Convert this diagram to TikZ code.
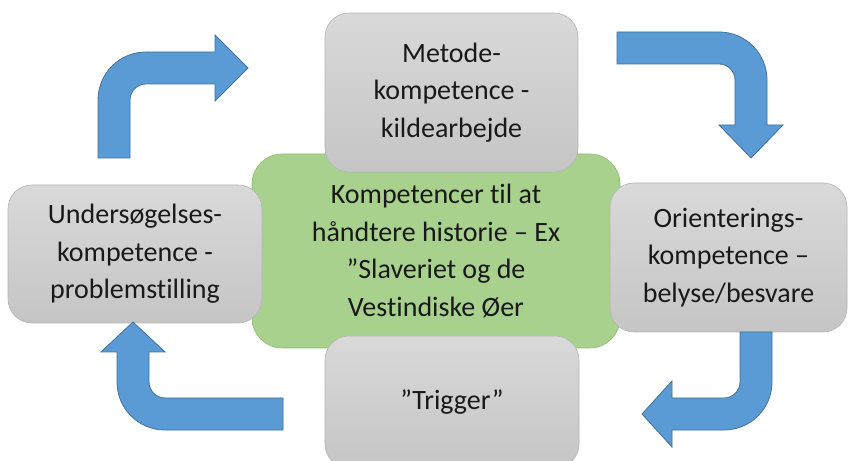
\documentclass[tikz,border=0pt]{standalone}
\usepackage{fontspec}
\setmainfont{Carlito}[Ligatures={NoCommon,NoRare,NoContextual}]
\usepackage{tikz}
\definecolor{boxtop}{HTML}{D9D9D9}
\definecolor{boxbot}{HTML}{C5C5C5}
\definecolor{boxline}{HTML}{B4B4B4}
\definecolor{corefill}{HTML}{A9D18E}
\definecolor{coreline}{HTML}{8DBA72}
\definecolor{arrfill}{HTML}{5B9BD5}
\definecolor{arrline}{HTML}{41719C}
\begin{document}
\begin{tikzpicture}[x=1pt,y=1pt,
    box/.style={draw=boxline, line width=.6pt, top color=boxtop, bottom color=boxbot, rounded corners=24pt, align=center, text=black!90, font=\fontsize{28}{37.5}\selectfont},
    corebox/.style={box, draw=coreline, top color=corefill, bottom color=corefill, rounded corners=30pt},
    blockarrow/.style={draw=arrline, line width=.8pt, fill=arrfill, line join=miter}]
\useasboundingbox (0,0) rectangle (850,460);
\clip (0,0) rectangle (850,460);
\node[corebox, minimum width=368, minimum height=194] (core) at (436,209) {Kompetencer til at\\håndtere historie – Ex\\”Slaveriet og de\\Vestindiske Øer};
\node[box, minimum width=253, minimum height=159] (metode) at (451.5,367.5) {Metode-\\kompetence -\\kildearbejde};
\node[box, minimum width=254, minimum height=138] (unders) at (135,206) {Undersøgelses-\\kompetence -\\problemstilling};
\node[box, minimum width=237, minimum height=149] (orient) at (728.5,202.5) {Orienterings-\\kompetence –\\belyse/besvare};
\node[box, minimum width=254, minimum height=132] (trigger) at (452,58) {”Trigger”};
\draw[blockarrow](98,302)--(98,360) arc (180:90:48)--(215,408)--(215,425)--(248,392)--(215,359)--(215,376)--(146,376) arc (90:180:16)--(130,302)--cycle;
\draw[blockarrow](617,428)--(719,428) arc (90:0:48)--(767,335)--(783,335)--(751,302)--(719,335)--(735,335)--(735,380) arc (0:90:16)--(617,396)--cycle;
\draw[blockarrow](772,128)--(772,78) arc (0:-90:48)--(672,30)--(672,13)--(642,46)--(672,79)--(672,62)--(724,62) arc (-90:0:16)--(740,128)--cycle;
\draw[blockarrow](283,62)--(165,62) arc (270:180:16)--(149,108)--(165,108)--(133,138)--(101,108)--(117,108)--(117,78) arc (180:270:48)--(283,30)--cycle;
\end{tikzpicture}
\end{document}
